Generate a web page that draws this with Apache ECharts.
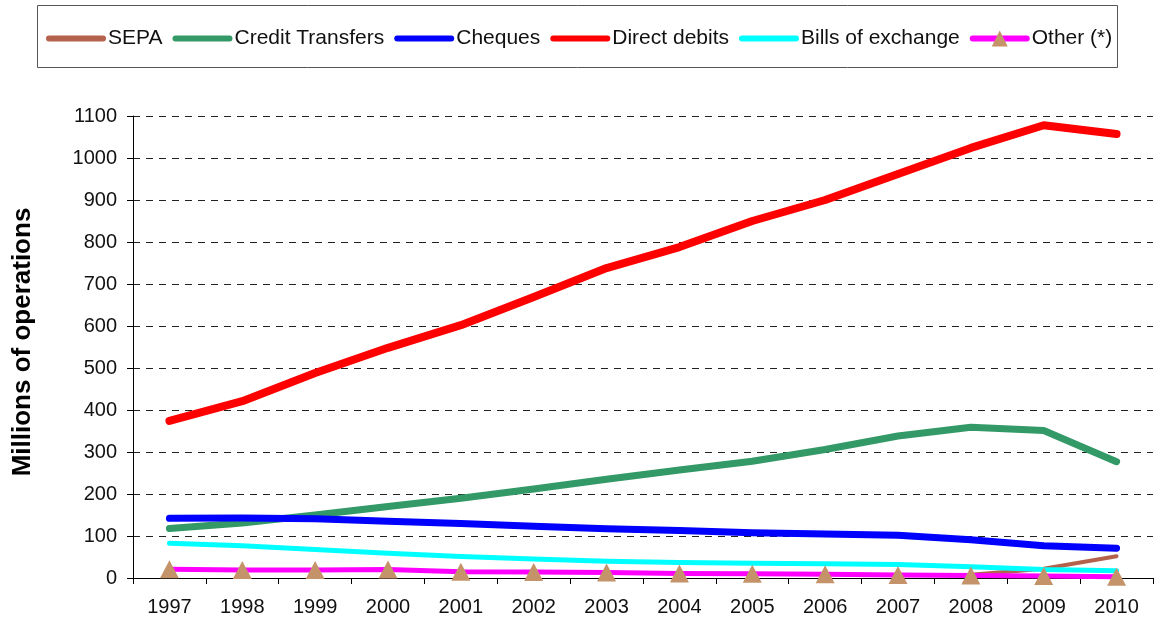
<!DOCTYPE html>
<html>
<head>
<meta charset="utf-8">
<script src="https://cdn.jsdelivr.net/npm/echarts@6/dist/echarts.min.js"></script>
<style>
  html, body { margin: 0; padding: 0; background: #fff; }
  #chart { width: 1154px; height: 627px; }
</style>
</head>
<body>
<div id="chart"></div>
<script>
// years on the x axis
const years = ['1997', '1998', '1999', '2000', '2001', '2002', '2003', '2004', '2005', '2006', '2007', '2008', '2009', '2010'];

// millions of operations
const sepa = ['-', '-', '-', '-', '-', '-', '-', '-', '-', '-', '-', 8, 22, 52];
const creditTransfers = [118, 131, 150, 170, 190, 212, 235, 257, 278, 306, 338, 359, 351, 277];
const cheques = [142, 143, 141, 135, 130, 123, 117, 113, 108, 105, 102, 91, 77, 71];
const directDebits = [374, 421, 488, 548, 602, 669, 738, 788, 850, 900, 962, 1024, 1078, 1057];
const billsOfExchange = [83, 77, 68, 59, 51, 45, 40, 37, 35, 34, 32, 27, 20, 17];
const other = [21, 19, 19, 20, 15, 14, 13, 11, 10, 9, 7, 6, 5, 3];

const chart = echarts.init(document.getElementById('chart'));
const font = 'Liberation Sans, Arial, Helvetica, sans-serif';

function lineSeries(name, data, color, width) {
  return {
    name: name,
    type: 'line',
    data: data,
    showSymbol: false,
    symbol: 'none',
    lineStyle: { color: color, width: width, cap: 'round', join: 'round' },
    itemStyle: { color: color },
    emphasis: { disabled: true }
  };
}

// legend entries: plain thick line for all but "Other", which keeps its triangle
const hideDot = { opacity: 0 };

const option = {
  animation: false,
  textStyle: { fontFamily: font },
  graphic: [
    {
      type: 'rect',
      shape: { x: 37.5, y: 5.5, width: 1080, height: 62 },
      style: { fill: 'none', stroke: '#555', lineWidth: 1 },
      silent: true
    }
  ],
  legend: {
    left: 46,
    top: 28,
    padding: 0,
    itemWidth: 54,
    itemHeight: 20,
    itemGap: 10,
    lineStyle: { width: 6, cap: 'round' },
    textStyle: { fontSize: 21, color: '#111', fontFamily: font },
    data: [
      { name: 'SEPA', itemStyle: hideDot },
      { name: 'Credit Transfers', itemStyle: hideDot },
      { name: 'Cheques', itemStyle: hideDot },
      { name: 'Direct debits', itemStyle: hideDot },
      { name: 'Bills of exchange', itemStyle: hideDot },
      { name: 'Other (*)' }
    ]
  },
  grid: { left: 133, right: 1, top: 116, bottom: 49, containLabel: false },
  xAxis: {
    type: 'category',
    data: years,
    boundaryGap: true,
    axisLine: { lineStyle: { color: '#000', width: 1 } },
    axisTick: { show: true, length: 6, lineStyle: { color: '#000' } },
    axisLabel: { fontSize: 20, color: '#111', margin: 19 }
  },
  yAxis: {
    type: 'value',
    min: 0,
    max: 1100,
    interval: 100,
    name: 'Millions of operations',
    nameLocation: 'middle',
    nameGap: 97,
    nameTextStyle: { fontSize: 26, fontWeight: 'bold', color: '#000', padding: [0, 0, 0, 10] },
    axisLine: { show: true, lineStyle: { color: '#000', width: 1 } },
    axisTick: { show: true, length: 6, lineStyle: { color: '#000' } },
    axisLabel: { fontSize: 20, color: '#111', margin: 16, formatter: (v) => String(v) },
    splitLine: { show: true, lineStyle: { color: '#222', width: 1, type: [7, 6] } }
  },
  series: [
    lineSeries('SEPA', sepa, '#B4624B', 4),
    lineSeries('Credit Transfers', creditTransfers, '#339966', 7),
    lineSeries('Cheques', cheques, '#0000FF', 7),
    lineSeries('Direct debits', directDebits, '#FF0000', 8),
    lineSeries('Bills of exchange', billsOfExchange, '#00FFFF', 5),
    {
      name: 'Other (*)',
      type: 'line',
      data: other,
      symbol: 'triangle',
      symbolSize: [19, 18],
      showSymbol: true,
      lineStyle: { color: '#FF00FF', width: 5, cap: 'round', join: 'round' },
      itemStyle: { color: '#C4936A', borderWidth: 0 },
      emphasis: { disabled: true }
    }
  ]
};

chart.setOption(option);

window.addEventListener('resize', () => {
  chart.resize();
});
</script>
</body>
</html>
